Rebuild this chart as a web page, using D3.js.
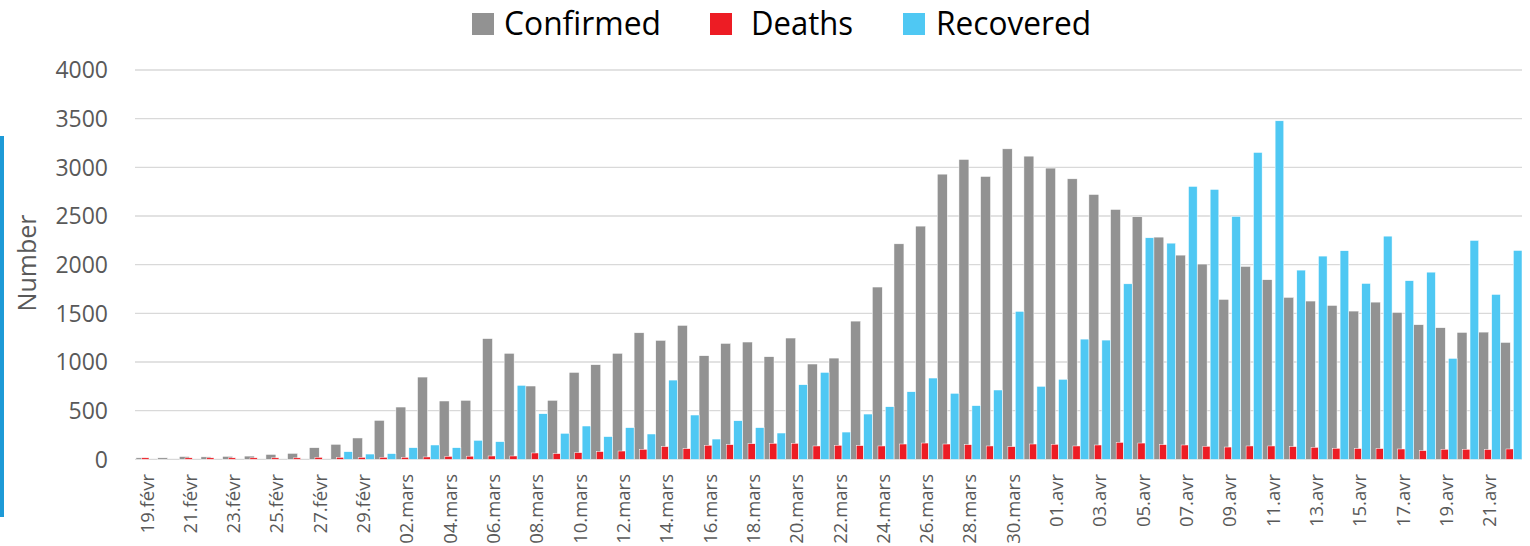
<!DOCTYPE html>
<html>
<head>
<meta charset="utf-8">
<script src="https://cdn.jsdelivr.net/npm/d3@7"></script>
<style>
  body { margin: 0; background: #fff; }
  text { font-family: "Open Sans", "Noto Sans", sans-serif; }
</style>
</head>
<body>
<div id="chart"></div>
<script>
// dates (one bar group per day)
var dates = [
  "19.févr","20.févr","21.févr","22.févr","23.févr","24.févr","25.févr","26.févr","27.févr","28.févr","29.févr",
  "01.mars","02.mars","03.mars","04.mars","05.mars","06.mars","07.mars","08.mars","09.mars","10.mars",
  "11.mars","12.mars","13.mars","14.mars","15.mars","16.mars","17.mars","18.mars","19.mars","20.mars",
  "21.mars","22.mars","23.mars","24.mars","25.mars","26.mars","27.mars","28.mars","29.mars","30.mars","31.mars",
  "01.avr","02.avr","03.avr","04.avr","05.avr","06.avr","07.avr","08.avr","09.avr","10.avr",
  "11.avr","12.avr","13.avr","14.avr","15.avr","16.avr","17.avr","18.avr","19.avr","20.avr","21.avr","22.avr"
];

var confirmed = [
  15, 15, 28, 25, 30, 33, 50, 61, 119, 154, 219,
  400, 537, 845, 599, 606, 1240, 1089, 753, 606, 893,
  972, 1089, 1300, 1222, 1376, 1064, 1191, 1205, 1054, 1246,
  979, 1040, 1420, 1770, 2214, 2396, 2930, 3081, 2906, 3190, 3115,
  2992, 2882, 2721, 2567, 2492, 2283, 2098, 2006, 1643, 1982,
  1845, 1664, 1626, 1581, 1523, 1615, 1509, 1383, 1352, 1304, 1307, 1201
];

var deaths = [
  15, 0, 15, 15, 15, 15, 15, 15, 20, 20, 20,
  20, 20, 24, 30, 32, 34, 34, 65, 58, 68,
  79, 85, 103, 130, 109, 144, 150, 160, 164, 164,
  137, 144, 140, 137, 157, 167, 157, 150, 137, 130, 157,
  154, 137, 147, 174, 167, 150, 147, 134, 126, 137,
  137, 130, 123, 113, 110, 110, 106, 89, 103, 103, 99, 106
];

var recovered = [
  0, 0, 0, 0, 0, 0, 0, 0, 0, 78, 54,
  58, 119, 147, 119, 195, 181, 760, 468, 267, 342,
  233, 325, 260, 814, 455, 208, 396, 325, 270, 766,
  893, 280, 465, 540, 694, 835, 678, 551, 712, 1520, 750,
  822, 1235, 1225, 1803, 2276, 2221, 2804, 2773, 2496, 3153,
  3478, 1944, 2088, 2143, 1807, 2293, 1835, 1923, 1037, 2249, 1694, 2146
];

var yTicks = [0, 500, 1000, 1500, 2000, 2500, 3000, 3500, 4000];

var colors = {Confirmed: "#929292", Deaths: "#ed1c24", Recovered: "#4fc8f3"};

var width = 1530, height = 546;

var svg = d3.select("#chart")
  .append("svg")
    .attr("width", width)
    .attr("height", height);

// scales
var x = d3.scaleBand()
  .domain(dates)
  .range([136, 1522])
  .padding(0);

var y = d3.scaleLinear()
  .domain([0, 4000])
  .range([459.3, 70]);

var bw = x.bandwidth();

// left edge decoration
svg.append("rect")
  .attr("x", 0).attr("y", 136)
  .attr("width", 4).attr("height", 381)
  .attr("fill", "#1d9ad7");

// gridlines
svg.append("g")
  .selectAll("line")
  .data(yTicks)
  .enter().append("line")
    .attr("x1", 135).attr("x2", 1522)
    .attr("y1", function(d) { return y(d); })
    .attr("y2", function(d) { return y(d); })
    .attr("stroke", "#d9d9d9")
    .attr("stroke-width", 1.3);

// y tick labels
svg.append("g")
  .selectAll("text")
  .data(yTicks)
  .enter().append("text")
    .attr("x", 108)
    .attr("y", function(d) { return y(d); })
    .attr("dy", "0.36em")
    .attr("text-anchor", "end")
    .attr("font-size", 23)
    .attr("fill", "#595959")
    .text(function(d) { return d; });

// y axis title
svg.append("text")
  .attr("transform", "translate(27,263) rotate(-90)")
  .attr("text-anchor", "middle")
  .attr("dy", "0.36em")
  .attr("font-size", 25)
  .attr("fill", "#595959")
  .text("Number");

// bars: grey, then red, then blue on top
var layout = [
  {name: "Confirmed", values: confirmed, off: 0.0,  w: 0.46},
  {name: "Deaths",    values: deaths,    off: 0.26, w: 0.34},
  {name: "Recovered", values: recovered, off: 0.60, w: 0.40}
];

layout.forEach(function(s) {
  svg.append("g")
    .selectAll("rect")
    .data(s.values)
    .enter().append("rect")
      .attr("x", function(d, i) { return x(dates[i]) + s.off * bw; })
      .attr("width", s.w * bw)
      .attr("y", function(d) { return y(d); })
      .attr("height", function(d) { return y(0) - y(d); })
      .attr("fill", colors[s.name])
      .attr("stroke", "#ffffff")
      .attr("stroke-width", 0.5);
});

// x labels every second day
svg.append("g")
  .selectAll("text")
  .data(dates.filter(function(d, i) { return i % 2 === 0; }))
  .enter().append("text")
    .attr("transform", function(d) {
      return "translate(" + (x(d) + bw / 2) + ",474) rotate(-90)";
    })
    .attr("text-anchor", "end")
    .attr("dy", "0.36em")
    .attr("font-size", 18.5)
    .attr("fill", "#595959")
    .text(function(d) { return d; });

// legend
var legendItems = [
  {name: "Confirmed", sx: 472, tx: 504, len: 157},
  {name: "Deaths",    sx: 710, tx: 751, len: 102},
  {name: "Recovered", sx: 903, tx: 936, len: 155}
];

var legend = svg.append("g");
legend.selectAll("rect")
  .data(legendItems)
  .enter().append("rect")
    .attr("x", function(d) { return d.sx; })
    .attr("y", 13)
    .attr("width", 22).attr("height", 22)
    .attr("fill", function(d) { return colors[d.name]; });

legend.selectAll("text")
  .data(legendItems)
  .enter().append("text")
    .attr("x", function(d) { return d.tx; })
    .attr("y", 35)
    .attr("font-size", 32)
    .attr("fill", "#000")
    .attr("textLength", function(d) { return d.len; })
    .attr("lengthAdjust", "spacingAndGlyphs")
    .text(function(d) { return d.name; });
</script>
</body>
</html>
